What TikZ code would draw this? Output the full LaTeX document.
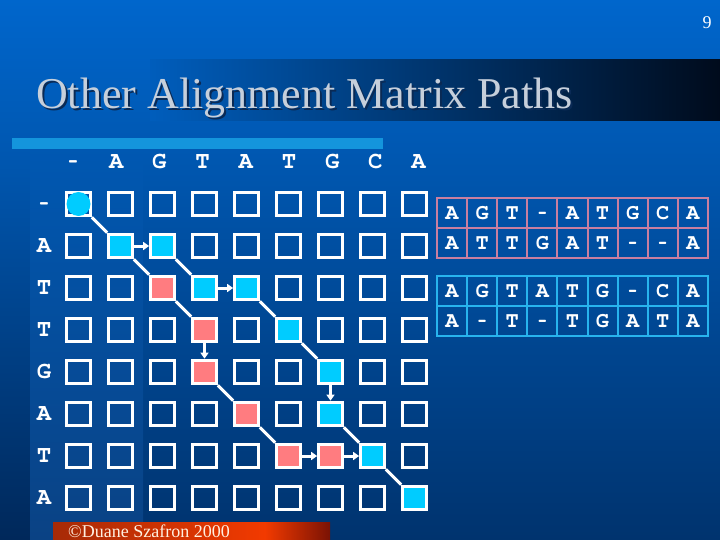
\documentclass[tikz,border=0pt]{standalone}
\usepackage[T1]{fontenc}
\usepackage{fontspec}
\setmainfont{Liberation Serif}
\usepackage{tikz}
\usetikzlibrary{arrows.meta}
\definecolor{bgtop}{HTML}{0066CC}
\definecolor{bgbottom}{HTML}{00336E}
\definecolor{bandleft}{HTML}{00285A}
\definecolor{bandmid}{HTML}{0A4284}
\definecolor{titledark}{HTML}{000B1C}
\definecolor{barblue}{HTML}{1495DC}
\definecolor{titlegray}{HTML}{C6CFDB}
\definecolor{titleshadow}{HTML}{0A2A55}
\definecolor{cellcyan}{HTML}{00CCFF}
\definecolor{cellpink}{HTML}{FF7C80}
\definecolor{pinkline}{HTML}{C97FA0}
\definecolor{cyanline}{HTML}{28B4EE}
\definecolor{footleft}{HTML}{A62A06}
\definecolor{footmid}{HTML}{F23A00}
\definecolor{footright}{HTML}{7A1204}
% Courier for the sequences, with a short gap dash
\newcommand{\courier}{\fontencoding{T1}\fontfamily{pcr}\fontseries{b}\selectfont}
\newcommand{\gap}{\scalebox{0.65}[1]{-}}
\tikzset{
% Matrix cells: empty square, and the dot where both paths start
cell/.style={rectangle,draw=white,line width=3pt,minimum size=23.7pt,inner sep=0},
start dot/.style={circle,fill=cellcyan,minimum size=24pt,inner sep=0},
% Letters of the two sequences and of the two alignments
seq label/.style={text=white,inner sep=0,text height=13.5pt,text depth=0pt,
  font=\courier\fontsize{24}{28}\selectfont},
align cell/.style={rectangle,line width=2pt,minimum width=30.1pt,minimum height=30pt,
  inner sep=0,text=white,text height=12.4pt,text depth=0pt,
  font=\courier\fontsize{22}{26}\selectfont},
% Steps of a path
path line/.style={draw=white,line width=3pt},
path arrow/.style={path line,-{Triangle[length=6pt,width=8pt]}}
}
\begin{document}
\begin{tikzpicture}[x=1pt,y=-1pt,
cyan at/.style={cell #1/.style={fill=cellcyan}},
pink at/.style={cell #1/.style={fill=cellpink}},
cyan at/.list={11,12,23,24,35,46,56,67,78},
pink at/.list={22,33,43,54,65,66}]
\useasboundingbox (0,0) rectangle (720,540);
% Background
\shade[top color=bgtop,bottom color=bgbottom] (0,0) rectangle (720,540);
\shade[top color=bgtop!72!bgbottom,bottom color=bandleft] (0,150) rectangle (30,540);
\shade[top color=bgtop!72!bgbottom,bottom color=bandmid] (30,150) rectangle (143,540);
\shade[left color=bgtop!83!bgbottom,right color=titledark] (150,60) rectangle (720,121);
\fill[barblue] (12,138) rectangle (383,149);
% Title and page number
\node[anchor=base west,inner sep=0,text=titleshadow,font=\fontsize{44}{48}\selectfont]
  (title shadow) at (38,111) {Other Alignment Matrix Paths};
\node[anchor=base west,inner sep=0,text=titlegray,font=\fontsize{44}{48}\selectfont]
  (title) at (36,109) {Other Alignment Matrix Paths};
\node[anchor=base,inner sep=0,text=white,font=\fontsize{18}{20}\selectfont] (page) at (707,29) {9};
% Sequence labels
\foreach \ch [count=\i from 0] in {\gap,A,G,T,A,T,G,C,A}
\node[seq label] (col\i) at ({73+43.2*\i},162) {\ch};
\foreach \ch [count=\i from 0] in {\gap,A,T,T,G,A,T,A}
\node[seq label] (row\i) at (44,{204+42*\i}) {\ch};
% The matrix
\foreach \r in {0,...,7}
\foreach \c in {0,...,8}
\node[cell,cell \r\c/.try] (\r\c) at ({78.5+42*\c},{204+42*\r}) {};
\node[start dot] (start) at (00) {};
% Diagonal steps
\foreach \a/\b in {00/11,11/22,12/23,22/33,24/35,35/46,43/54,54/65,56/67,67/78}
\draw[path line] (\a.south east) -- (\b.north west);
% Gap steps
\foreach \a/\b in {11/12,23/24,65/66,66/67,33/43,46/56}
\draw[path arrow] (\a) -- (\b);
% Pink alignment
\foreach \ch [count=\i from 0] in {A,G,T,\gap,A,T,G,C,A}
\node[align cell,draw=pinkline] (p1\i) at ({452.05+30.1*\i},213) {\ch};
\foreach \ch [count=\i from 0] in {A,T,T,G,A,T,\gap,\gap,A}
\node[align cell,draw=pinkline] (p2\i) at ({452.05+30.1*\i},243) {\ch};
% Cyan alignment
\foreach \ch [count=\i from 0] in {A,G,T,A,T,G,\gap,C,A}
\node[align cell,draw=cyanline] (q1\i) at ({452.05+30.1*\i},291) {\ch};
\foreach \ch [count=\i from 0] in {A,\gap,T,\gap,T,G,A,T,A}
\node[align cell,draw=cyanline] (q2\i) at ({452.05+30.1*\i},321) {\ch};
% Footer
\shade[left color=footleft,right color=footmid] (53,522) rectangle (265,540);
\shade[left color=footmid,right color=footright] (265,522) rectangle (330,540);
\node[anchor=base west,inner sep=0,text=orange!12!white,font=\fontsize{18}{20}\selectfont]
  (copyright) at (68,537) {©Duane Szafron 2000};
\end{tikzpicture}
\end{document}
